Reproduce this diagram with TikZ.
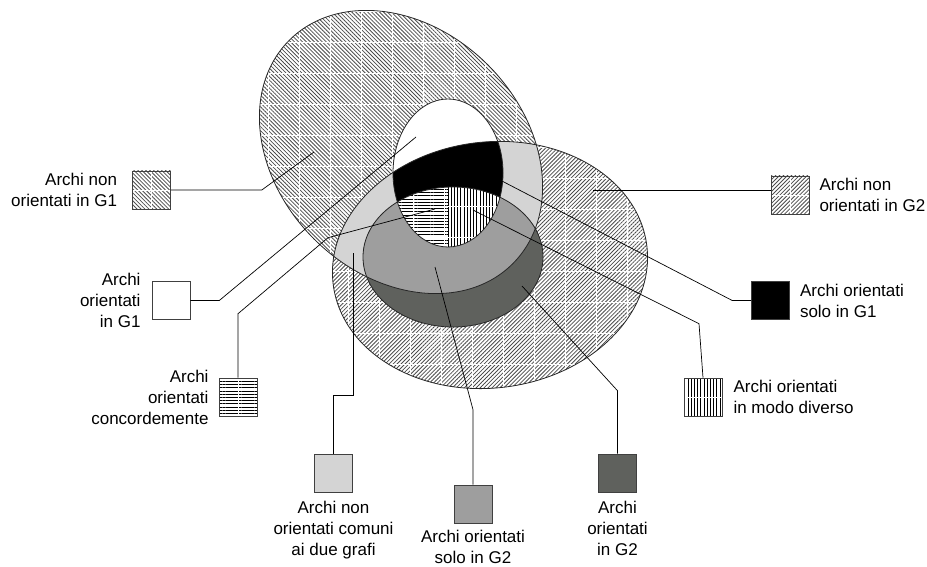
\documentclass[tikz,border=0pt]{standalone}
\usepackage{fontspec}
\setmainfont{Liberation Sans}
\usepackage{tikz}
\usetikzlibrary{positioning,patterns.meta}

\definecolor{common}{RGB}{212,212,212}
\definecolor{onlytwo}{RGB}{158,158,158}
\definecolor{dirtwo}{RGB}{95,97,93}

\tikzset{
  every node/.append style={font=\fontsize{17}{21}\selectfont},
}

% the four ellipses (pixel units, y pointing down)
\newcommand{\ellGone}{(401,152) ellipse [x radius=158, y radius=123]}
\newcommand{\ellGtwo}{(490,265) ellipse [x radius=158, y radius=123]}
\newcommand{\ellInone}{(448,173) ellipse [x radius=55, y radius=74]}
\newcommand{\ellIntwo}{(453,257) ellipse [x radius=90, y radius=70]}
\newcommand{\wgridlines}[1]{\draw[wgrid, shift={#1}] (-40,600) grid[step=31pt] (960,-40);}

\begin{document}
\begin{tikzpicture}[x=1pt, y=-1pt,
  swatch/.style={draw=black!75, line width=0.6pt, minimum size=38pt, inner sep=0pt},
  lbl/.style={inner sep=0pt},
  lead/.style={draw=black, line width=0.7pt},
  rim/.style={draw=black!85, line width=0.8pt},
  wgrid/.style={draw=white, line width=0.7pt},
  hatchA/.style={pattern={Lines[angle=-45,distance=2.8pt,line width=0.8pt]}, pattern color=black!70},
  hatchB/.style={pattern={Lines[angle=45,distance=2.8pt,line width=0.8pt]}, pattern color=black!70},
  hlines/.style={pattern={Lines[angle=0,distance=3.2pt,line width=0.9pt]}, pattern color=black},
  vlines/.style={pattern={Lines[angle=90,distance=3.2pt,line width=0.9pt]}, pattern color=black},
  rotA/.style={rotate around={-45:(401,152)}},
  rotB/.style={rotate around={7:(490,265)}},
  wvert/.style={path picture={\draw[wgrid] (path picture bounding box.north) -- (path picture bounding box.south);}},
  whorz/.style={path picture={\draw[wgrid] (path picture bounding box.west) -- (path picture bounding box.east);}},
  wcross/.style={path picture={\draw[wgrid] (path picture bounding box.north) -- (path picture bounding box.south)
      (path picture bounding box.west) -- (path picture bounding box.east);}}
]
\useasboundingbox (0,0) rectangle (927,567);

% G1 (tilted) and G2, hatched
\begin{scope}
  \clip[rotA] \ellGone;
  \fill[hatchA] (230,0) rectangle (570,310);
  \wgridlines{(20,11)}
\end{scope}
\begin{scope}
  \clip[rotB] \ellGtwo;
  \fill[hatchB] (320,130) rectangle (660,400);
  \wgridlines{(7,23)}
\end{scope}

% Common part of the two graphs
\begin{scope}
  \clip[rotA] \ellGone;
  \fill[common, rotB] \ellGtwo;
\end{scope}

% Oriented in G2 (inside / outside G1)
\fill[dirtwo] \ellIntwo;
\begin{scope}
  \clip[rotA] \ellGone;
  \fill[onlytwo] \ellIntwo;
\end{scope}

% Oriented in G1, only in G1, and both
\fill[white] \ellInone;
\begin{scope}
  \clip \ellInone;
  \fill[black, rotB] \ellGtwo;
  \clip \ellIntwo;
  \fill[white] (380,150) rectangle (520,340);
  \fill[hlines] (380,150) rectangle (448,340);
  \fill[vlines] (448,150) rectangle (520,340);
  \wgridlines{(10,20)}
\end{scope}

% Outlines
\draw[rim, rotA] \ellGone;
\draw[rim, rotB] \ellGtwo;
\draw[rim] \ellInone;
\draw[rim] \ellIntwo;

% Legend swatches
\node[swatch, hatchA, wcross] (b1) at (151.5,190) {};
\node[swatch, fill=white] (b2) at (171,300.5) {};
\node[swatch, hlines, wvert] (b3) at (238,397) {};
\node[swatch, fill=common] (b4) at (333.5,473) {};
\node[swatch, fill=onlytwo] (b5) at (473,504) {};
\node[swatch, fill=dirtwo] (b6) at (617.5,473) {};
\node[swatch, vlines, whorz] (b7) at (703,397) {};
\node[swatch, fill=black] (b8) at (770.5,300.5) {};
\node[swatch, hatchB, wcross] (b9) at (790,195) {};

% Labels
\node[lbl, left=15pt of b1, align=right] (t1) {Archi non\\orientati in G1};
\node[lbl, left=11pt of b2, align=right] (t2) {Archi\\orientati\\in G1};
\node[lbl, left=10pt of b3, align=right] (t3) {Archi\\orientati\\concordemente};
\node[lbl, below=9pt of b4, align=center] (t4) {Archi non\\orientati comuni\\ai due grafi};
\node[lbl, below=7pt of b5, align=center] (t5) {Archi orientati\\solo in G2};
\node[lbl, below=9pt of b6, align=center] (t6) {Archi\\orientati\\in G2};
\node[lbl, right=11pt of b7, align=left] (t7) {Archi orientati\\in modo diverso};
\node[lbl, right=10pt of b8, align=left] (t8) {Archi orientati\\solo in G1};
\node[lbl, right=10pt of b9, align=left] (t9) {Archi non\\orientati in G2};

% Leader lines (swatch -> region)
\coordinate (pNonA) at (314,152);
\coordinate (pOrA) at (416,137);
\coordinate (pConc) at (435,209);
\coordinate (pComm) at (353,253);
\coordinate (pSoloB) at (435,267);
\coordinate (pOrB) at (522,286);
\coordinate (pDiff) at (473,210);
\coordinate (pSoloA) at (500,180);
\coordinate (pNonB) at (593,190);

\draw[lead] (b1.east) -- ++(91,0) -- (pNonA);
\draw[lead] (b2.east) -- ++(29,0) -- (pOrA);
\draw[lead] (b3.north) -- ++(0,-64) -- ++(90,-76) -- (pConc);
\draw[lead] (b4.north) -- ++(0,-58) -| (pComm);
\draw[lead] (b5.north) -- ++(0,-75) -- (pSoloB);
\draw[lead] (b6.north) -- ++(0,-63) -- (pOrB);
\draw[lead] (b7.north) -- ++(-4,-54) -- (pDiff);
\draw[lead] (b8.west) -- ++(-19,0) -- (pSoloA);
\draw[lead] (pNonB) -- (pNonB -| b9.west);

\end{tikzpicture}
\end{document}
